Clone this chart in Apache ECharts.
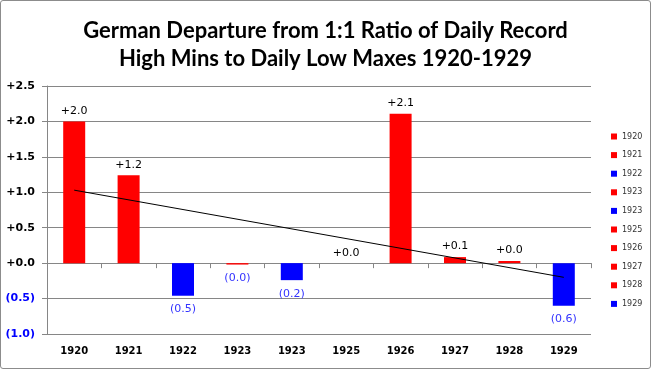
<!DOCTYPE html>
<html><head><meta charset="utf-8">
<script src="https://cdn.jsdelivr.net/npm/echarts@6/dist/echarts.min.js"></script>
<style>html,body{margin:0;padding:0;background:#fff}#c{width:649px;height:367px;border:1px solid #8c8c8c;border-radius:3px}</style>
</head><body><div id="c"></div>
<script>
const categories = ['1920','1921','1922','1923','1923','1925','1926','1927','1928','1929'];
const values = [2.0, 1.24, -0.46, -0.02, -0.24, 0.0, 2.11, 0.085, 0.03, -0.6];
const barColors = ['#ff0000','#ff0000','#0000ff','#ff0000','#0000ff','#ff0000','#ff0000','#ff0000','#ff0000','#0000ff'];
const trendStart = 1.03, trendEnd = -0.2;
const yTicks = [-1.0, -0.5, 0, 0.5, 1.0, 1.5, 2.0, 2.5];

function fmt(v){ return v < 0 ? '(' + Math.abs(v).toFixed(1) + ')' : '+' + v.toFixed(1); }
const seen = {};
const series = categories.map((c, i) => {
  let name = c; while (seen[name]) name += ' '; seen[name] = true;
  const data = categories.map(() => null);
  const v = values[i];
  data[i] = {value: v, label: {show: true, position: v < 0 ? 'bottom' : 'top', distance: v < 0 ? 8 : 5,
    color: v < 0 ? '#3333ff' : '#000', formatter: () => fmt(v)}};
  return {name, type: 'bar', stack: 'all', barWidth: 22, xAxisIndex: 0, data,
    itemStyle: {color: barColors[i]}, label: {fontFamily: 'DejaVu Sans', fontSize: 11}};
});
const trend = categories.map(() => null); trend[0] = trendStart; trend[trend.length-1] = trendEnd;
series.push({name: 'trend', type: 'line', data: trend, connectNulls: true, symbol: 'none',
  lineStyle: {color: '#000', width: 1}, xAxisIndex: 0, silent: true, z: 5});

const chart = echarts.init(document.getElementById('c'));
chart.setOption({
  animation: false,
  title: {text: 'German Departure from 1:1 Ratio of Daily Record\nHigh Mins to Daily Low Maxes 1920-1929', left: 'center', top: 11,
    textStyle: {fontFamily: 'Lato', fontWeight: 'bold', fontSize: 22, lineHeight: 28, color: '#000'}},
  legend: {orient: 'vertical', left: 610, top: 131, itemWidth: 6, itemHeight: 6, itemGap: 9.6, icon: 'rect',
    data: series.slice(0, 10).map(s => s.name),
    textStyle: {fontFamily: 'DejaVu Sans', fontSize: 8, lineHeight: 9, color: '#333'}, padding: 0},
  grid: {left: 46, right: 59, top: 85, bottom: 34},
  xAxis: [
    {type: 'category', data: categories, axisLine: {onZero: true, lineStyle: {color: '#868686'}},
     axisTick: {show: true, length: 5, lineStyle: {color: '#868686'}}, axisLabel: {show: false}},
    {type: 'category', data: categories, position: 'bottom', axisLine: {show: false, onZero: false}, axisTick: {show: false},
     axisLabel: {margin: 12, fontFamily: 'DejaVu Sans', fontWeight: 'bold', fontSize: 10, color: '#000'}}
  ],
  yAxis: {type: 'value', min: -1.0, max: 2.5, interval: 0.5,
    axisLine: {show: true, lineStyle: {color: '#868686'}}, axisTick: {show: true, length: 5, lineStyle: {color: '#868686'}},
    splitLine: {lineStyle: {color: '#868686'}},
    axisLabel: {margin: 12, fontFamily: 'DejaVu Sans', fontWeight: 'bold', fontSize: 11,
      formatter: v => fmt(v), color: v => (v < 0 ? '#0000ff' : '#000')}},
  series
});
</script></body></html>
